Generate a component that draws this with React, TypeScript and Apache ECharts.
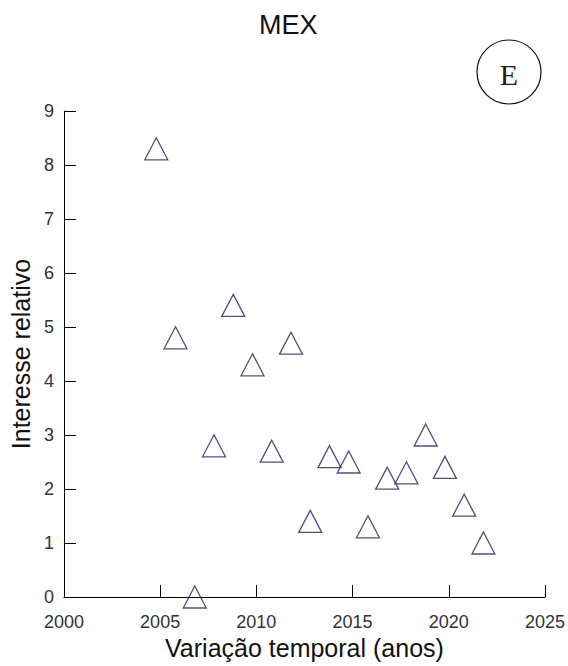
import React, { useEffect, useRef } from "react";
import * as echarts from "echarts";

// Relative search interest for Mexico, one point per year
const years = [
  2004.8, 2005.8, 2006.8, 2007.8, 2008.8, 2009.8, 2010.8, 2011.8, 2012.8,
  2013.8, 2014.8, 2015.8, 2016.8, 2017.8, 2018.8, 2019.8, 2020.8, 2021.8,
];
const interest = [
  8.3, 4.8, 0, 2.8, 5.4, 4.3, 2.7, 4.7, 1.4, 2.6, 2.5, 1.3, 2.2, 2.3, 3.0, 2.4,
  1.7, 1.0,
];

const titleText = "MEX";
const panelLetter = "E";
const xName = "Variação temporal (anos)";
const yName = "Interesse relativo";

const tickFont = '"Liberation Sans", Arial, sans-serif';
const labelFont = '"Liberation Sans", Arial, sans-serif';

export default function App() {
  const ref = useRef<HTMLDivElement>(null);

  useEffect(() => {
    if (!ref.current) return;
    const chart = echarts.init(ref.current, null, { renderer: "svg" });
    const points = years.map((y, i) => [y, interest[i]]);

    chart.setOption({
      animation: false,
      backgroundColor: "#ffffff",
      grid: { left: 63, right: 21, top: 111, bottom: 69, containLabel: false },
      xAxis: {
        type: "value",
        min: 2000,
        max: 2025,
        interval: 5,
        name: xName,
        nameLocation: "middle",
        nameGap: 34,
        nameTextStyle: { fontFamily: labelFont, fontSize: 25, color: "#111" },
        axisLine: { show: true, lineStyle: { color: "#000", width: 1 } },
        axisTick: { show: true, inside: true, length: 12, lineStyle: { color: "#000" } },
        axisLabel: {
          margin: 16,
          fontFamily: tickFont,
          fontSize: 18,
          color: "#333",
          formatter: (v: number) => String(v),
        },
        splitLine: { show: false },
      },
      yAxis: {
        type: "value",
        min: 0,
        max: 9,
        interval: 1,
        name: yName,
        nameLocation: "middle",
        nameGap: 25,
        nameTextStyle: { fontFamily: labelFont, fontSize: 25, color: "#111" },
        axisLine: { show: true, lineStyle: { color: "#000", width: 1 } },
        axisTick: { show: true, inside: true, length: 12, lineStyle: { color: "#000" } },
        axisLabel: {
          margin: 10,
          fontFamily: tickFont,
          fontSize: 18,
          color: "#333",
        },
        splitLine: { show: false },
      },
      series: [
        {
          type: "scatter",
          data: points,
          symbol: "triangle",
          symbolSize: [23, 22],
          clip: false,
          itemStyle: {
            color: "rgba(255,255,255,0)",
            borderColor: "#23235e",
            borderWidth: 1.3,
          },
        },
      ],
      graphic: [
        {
          type: "text",
          left: 290 - 31,
          top: 11,
          style: {
            text: titleText,
            font: `27px ${labelFont}`,
            fill: "#111",
          },
        },
        {
          type: "ellipse",
          shape: { cx: 509, cy: 72, rx: 32, ry: 32 },
          style: { fill: "none", stroke: "#111", lineWidth: 1.2 },
        },
        {
          type: "text",
          x: 509,
          y: 74,
          style: {
            text: panelLetter,
            font: '30px "Liberation Serif", "DejaVu Serif", serif',
            fill: "#222",
            align: "center",
            verticalAlign: "middle",
          },
        },
      ],
    });

    return () => chart.dispose();
  }, []);

  return (
    <div
      ref={ref}
      style={{ position: "fixed", left: 0, top: 0, width: 568, height: 666 }}
    />
  );
}
